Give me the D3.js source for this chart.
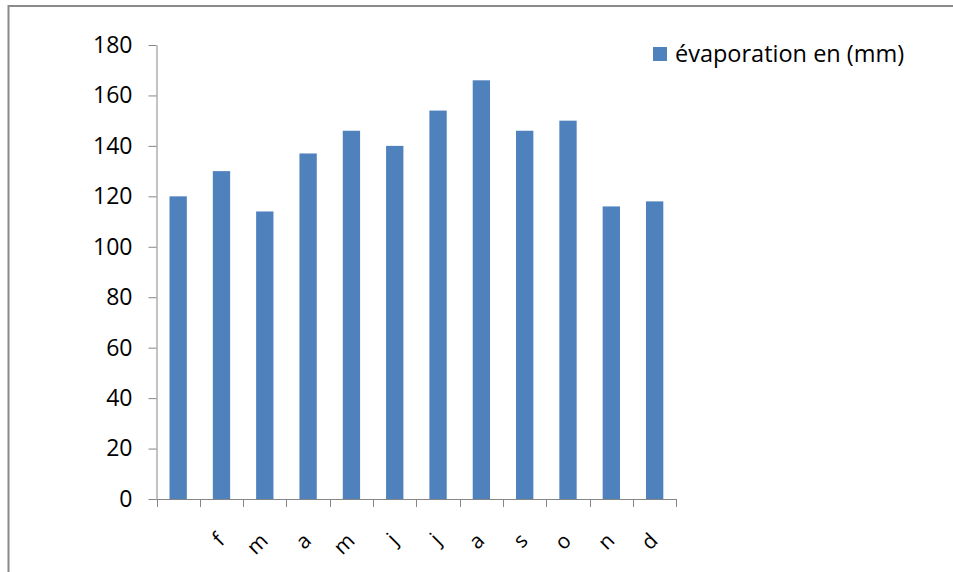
<!DOCTYPE html>
<html>
<head>
<meta charset="utf-8">
<script src="https://cdn.jsdelivr.net/npm/d3@7"></script>
<style>
  html, body { margin: 0; padding: 0; background: #fff; }
  svg { display: block; }
  text { font-family: "Open Sans", "Liberation Sans", sans-serif; fill: #000; }
</style>
</head>
<body>
<svg id="chart" width="953" height="572"></svg>
<script>
// Monthly evaporation (mm)
const months = ["", "f", "m", "a", "m", "j", "j", "a", "s", "o", "n", "d"];
const evaporation = [120, 130, 114, 137, 146, 140, 154, 166, 146, 150, 116, 118];
const yTicks = [0, 20, 40, 60, 80, 100, 120, 140, 160, 180];
const seriesName = "évaporation en (mm)";

const svg = d3.select("#chart");
const barColor = "#4F81BD";
const axisColor = "#868686";

// Outer chart frame
svg.append("rect")
  .attr("x", 8.5).attr("y", 6)
  .attr("width", 1000).attr("height", 700)
  .attr("fill", "none")
  .attr("stroke", "#8a8a8a")
  .attr("stroke-width", 2);

const plot = { left: 156.5, right: 676.3, top: 45, bottom: 499 };

const x = d3.scaleBand()
  .domain(d3.range(months.length))
  .range([plot.left, plot.right])
  .paddingInner(0.6)
  .paddingOuter(0.3);

const y = d3.scaleLinear()
  .domain([0, 180])
  .range([plot.bottom, plot.top]);

// Bars
svg.append("g")
  .selectAll("rect")
  .data(evaporation)
  .join("rect")
  .attr("x", (d, i) => x(i))
  .attr("y", d => y(d))
  .attr("width", x.bandwidth())
  .attr("height", d => y(0) - y(d))
  .attr("fill", barColor);

// Y axis
const yAxis = svg.append("g")
  .attr("transform", `translate(${plot.left},0)`)
  .call(d3.axisLeft(y).tickValues(yTicks).tickSize(8).tickPadding(16).tickSizeOuter(0));
yAxis.select(".domain").attr("stroke", axisColor);
yAxis.selectAll(".tick line").attr("stroke", axisColor);
yAxis.selectAll(".tick text")
  .attr("font-size", 23)
  .attr("font-family", "'Open Sans', sans-serif")
  .attr("fill", "#000");

// X axis: ticks sit on category boundaries
const boundaries = d3.range(months.length + 1).map(i => plot.left + i * x.step());
const xg = svg.append("g");
xg.append("line")
  .attr("x1", plot.left).attr("x2", plot.right)
  .attr("y1", plot.bottom + 0.5).attr("y2", plot.bottom + 0.5)
  .attr("stroke", axisColor);
xg.selectAll("line.tk")
  .data(boundaries)
  .join("line")
  .attr("class", "tk")
  .attr("x1", d => Math.round(d) + 0.5).attr("x2", d => Math.round(d) + 0.5)
  .attr("y1", plot.bottom).attr("y2", plot.bottom + 8)
  .attr("stroke", axisColor);

// Rotated month labels, ending just right of each category centre
xg.selectAll("text")
  .data(months)
  .join("text")
  .attr("transform", (d, i) => `translate(${x(i) + x.bandwidth() / 2 + 4.5},${plot.bottom + 43}) rotate(-45)`)
  .attr("text-anchor", "end")
  .attr("font-size", 21)
  .text(d => d);

// Legend
const legend = svg.append("g").attr("transform", "translate(653,47)");
legend.append("rect")
  .attr("width", 14).attr("height", 14)
  .attr("fill", barColor);
legend.append("text")
  .attr("x", 22).attr("y", 7)
  .attr("dy", "0.35em")
  .attr("font-size", 23.5)
  .text(seriesName);
</script>
</body>
</html>
